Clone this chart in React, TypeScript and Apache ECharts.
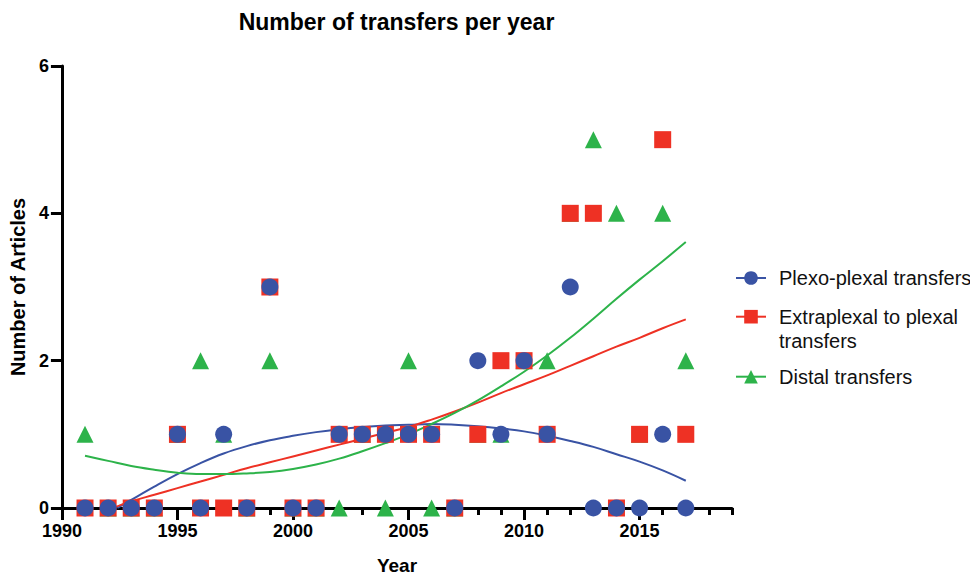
import React, { useEffect, useRef } from "react";
import * as echarts from "echarts";

// ---- data ----
const years = [1991, 1992, 1993, 1994, 1995, 1996, 1997, 1998, 1999, 2000, 2001, 2002, 2003, 2004, 2005, 2006, 2007, 2008, 2009, 2010, 2011, 2012, 2013, 2014, 2015, 2016, 2017];
const plexoPlexal = [0, 0, 0, 0, 1, 0, 1, 0, 3, 0, 0, 1, 1, 1, 1, 1, 0, 2, 1, 2, 1, 3, 0, 0, 0, 1, 0];
const extraplexal = [0, 0, 0, 0, 1, 0, 0, 0, 3, 0, 0, 1, 1, 1, 1, 1, 0, 1, 2, 2, 1, 4, 4, 0, 1, 5, 1];
const distal = [1, 0, 0, 0, 1, 2, 1, 0, 2, 0, 0, 0, 1, 0, 2, 0, 0, 1, 1, 2, 2, 4, 5, 4, 1, 4, 2];

// fitted curves
const plexoFitX = [1992.4, 1993, 1994, 1995, 1996, 1997, 1998, 1999, 2000, 2001, 2002, 2003, 2004, 2005, 2006, 2007, 2008, 2009, 2010, 2011, 2012, 2013, 2014, 2015, 2016, 2017];
const plexoFitY = [0, 0.11, 0.29, 0.46, 0.61, 0.74, 0.84, 0.92, 0.98, 1.03, 1.07, 1.1, 1.12, 1.13, 1.14, 1.13, 1.11, 1.08, 1.04, 0.98, 0.91, 0.83, 0.73, 0.63, 0.51, 0.37];
const extraFitX = [1992.2, 1993, 1994, 1995, 1996, 1997, 1998, 1999, 2000, 2001, 2002, 2003, 2004, 2005, 2006, 2007, 2008, 2009, 2010, 2011, 2012, 2013, 2014, 2015, 2016, 2017];
const extraFitY = [0, 0.09, 0.18, 0.27, 0.36, 0.45, 0.54, 0.62, 0.7, 0.78, 0.86, 0.94, 1.02, 1.1, 1.2, 1.31, 1.43, 1.56, 1.68, 1.8, 1.93, 2.06, 2.19, 2.31, 2.44, 2.56];
const distalFitX = [1991, 1992, 1993, 1994, 1995, 1996, 1997, 1998, 1999, 2000, 2001, 2002, 2003, 2004, 2005, 2006, 2007, 2008, 2009, 2010, 2011, 2012, 2013, 2014, 2015, 2016, 2017];
const distalFitY = [0.71, 0.64, 0.57, 0.52, 0.48, 0.46, 0.46, 0.47, 0.49, 0.53, 0.59, 0.67, 0.77, 0.88, 1.0, 1.14, 1.29, 1.46, 1.65, 1.85, 2.07, 2.31, 2.57, 2.84, 3.1, 3.35, 3.61];

const seriesNames = ["Plexo-plexal transfers", "Extraplexal to plexal transfers", "Distal transfers"];
const majorYears = [1990, 1995, 2000, 2005, 2010, 2015];
const yTicks = [0, 2, 4, 6];

const BLUE = "#3953a4";
const RED = "#ee3124";
const GREEN = "#2db34a";
const FONT = "'Liberation Sans', Arial, Helvetica, sans-serif";

const zip = (xs: number[], ys: number[]) => xs.map((x, i) => [x, ys[i]]);

export default function App() {
  const ref = useRef<HTMLDivElement>(null);

  useEffect(() => {
    if (!ref.current) return;
    const chart = echarts.init(ref.current, undefined, { renderer: "svg" });
    const axisLineStyle = { color: "#000", width: 3 };
    const legendText = {
      fontFamily: FONT,
      fontSize: 20,
      color: "#111",
      lineHeight: 24,
      padding: [0, 0, 0, 8],
    };
    const legendBase = {
      orient: "horizontal",
      left: 735,
      itemWidth: 30,
      itemHeight: 17,
      padding: 0,
      selectedMode: false,
      textStyle: legendText,
    };
    const curve = (name: string, color: string, symbol: string, data: number[][]) => ({
      type: "line",
      name,
      data,
      smooth: 0.4,
      symbol,
      showSymbol: false,
      z: 2,
      lineStyle: { color, width: 2 },
      itemStyle: { color },
      clip: true,
    });
    const dots = (name: string, color: string, symbol: string, values: number[], z: number) => ({
      type: "scatter",
      name,
      data: zip(years, values),
      symbol,
      symbolSize: 17,
      z,
      itemStyle: { color, opacity: 1 },
      clip: false,
    });

    chart.setOption({
      animation: false,
      backgroundColor: "#fff",
      title: {
        text: "Number of transfers per year",
        left: 396.5,
        top: 10,
        textAlign: "center",
        padding: 0,
        textStyle: { fontFamily: FONT, fontWeight: "bold", fontSize: 23, color: "#000" },
      },
      grid: { left: 61, right: 238, top: 66, bottom: 67, containLabel: false },
      xAxis: [
        {
          type: "value",
          min: 1990,
          max: 2019,
          interval: 1,
          axisLine: { show: true, onZero: false, lineStyle: axisLineStyle },
          axisTick: { show: true, length: 7, lineStyle: axisLineStyle },
          axisLabel: {
            margin: 14,
            fontFamily: FONT,
            fontWeight: "bold",
            fontSize: 18,
            color: "#000",
            formatter: (v: number) => (majorYears.indexOf(v) >= 0 ? String(v) : ""),
          },
          splitLine: { show: false },
          name: "Year",
          nameLocation: "middle",
          nameGap: 48,
          nameTextStyle: { fontFamily: FONT, fontWeight: "bold", fontSize: 19, color: "#000" },
        },
        {
          type: "value",
          position: "bottom",
          min: 1990,
          max: 2019,
          interval: 5,
          axisLine: { show: false },
          axisTick: { show: true, length: 12, customValues: majorYears, lineStyle: axisLineStyle },
          axisLabel: { show: false },
          splitLine: { show: false },
        },
      ],
      yAxis: {
        type: "value",
        min: 0,
        max: 6,
        interval: 2,
        axisLine: { show: true, lineStyle: axisLineStyle },
        axisTick: { show: true, length: 11, customValues: yTicks, lineStyle: axisLineStyle },
        axisLabel: { margin: 13, fontFamily: FONT, fontWeight: "bold", fontSize: 18, color: "#000" },
        splitLine: { show: false },
        name: "Number of Articles",
        nameLocation: "middle",
        nameGap: 33,
        nameRotate: 90,
        nameTextStyle: { fontFamily: FONT, fontWeight: "bold", fontSize: 20, color: "#000" },
      },
      legend: [
        { ...legendBase, top: 266, data: [seriesNames[0]] },
        {
          ...legendBase,
          top: 280.7,
          data: [seriesNames[1]],
          formatter: () => "{s| }\n{t|Extraplexal to plexal}\n{t|transfers}",
          textStyle: {
            ...legendText,
            rich: {
              s: { fontFamily: FONT, fontSize: 20, lineHeight: 24, color: "#111" },
              t: { fontFamily: FONT, fontSize: 20, lineHeight: 24, color: "#111" },
            },
          },
        },
        { ...legendBase, top: 364.7, data: [seriesNames[2]] },
      ],
      series: [
        curve(seriesNames[0], BLUE, "circle", zip(plexoFitX, plexoFitY)),
        curve(seriesNames[1], RED, "rect", zip(extraFitX, extraFitY)),
        curve(seriesNames[2], GREEN, "triangle", zip(distalFitX, distalFitY)),
        dots(seriesNames[2], GREEN, "triangle", distal, 3),
        dots(seriesNames[1], RED, "rect", extraplexal, 4),
        dots(seriesNames[0], BLUE, "circle", plexoPlexal, 5),
      ],
    });
    return () => chart.dispose();
  }, []);

  return (
    <div
      ref={ref}
      style={{ position: "fixed", left: 0, top: 0, width: 970, height: 580, background: "#fff" }}
    />
  );
}
